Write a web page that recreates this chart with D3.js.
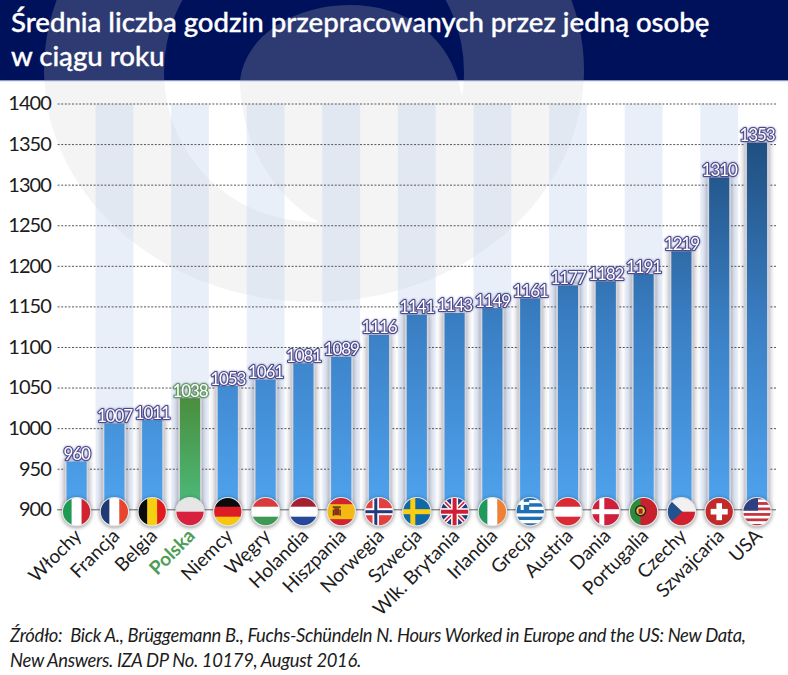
<!DOCTYPE html>
<html>
<head>
<meta charset="utf-8">
<script src="https://cdn.jsdelivr.net/npm/d3@7"></script>
<style>
  body { margin: 0; background: white; }
  text { font-family: Lato, "Open Sans", sans-serif; }
</style>
</head>
<body>
<div id="container"></div>
<script>
let categories = ["Włochy","Francja","Belgia","Polska","Niemcy","Węgry","Holandia","Hiszpania","Norwegia","Szwecja","Wlk. Brytania","Irlandia","Grecja","Austria","Dania","Portugalia","Czechy","Szwajcaria","USA"];
let values = [960,1007,1011,1038,1053,1061,1081,1089,1116,1141,1143,1149,1161,1177,1182,1191,1219,1310,1353];
let yTicks = [900,950,1000,1050,1100,1150,1200,1250,1300,1350,1400];
let titleLines = ["Średnia liczba godzin przepracowanych przez jedną osobę","w ciągu roku"];
let sourceLines = ["Źródło:  Bick A., Brüggemann B., Fuchs-Schündeln N. Hours Worked in Europe and the US: New Data,","New Answers. IZA DP No. 10179, August 2016."];

let w = 788;
let h = 675;
let headerH = 80;

let viz = d3.select("#container")
  .append("svg")
    .attr("width",w)
    .attr("height",h)
    .style("display","block")
;
let defs = viz.append("defs");

let xScale = d3.scaleBand().domain(categories).range([57.7,775.9]).paddingInner(0.42).paddingOuter(0.21);
let yScale = d3.scaleLinear().domain([900,1400]).range([509.3,103.5]);

// background logo, drawn once for the header and once for the chart area
defs.append("clipPath").attr("id","clipHeader").append("rect").attr("width",w).attr("height",headerH);
defs.append("clipPath").attr("id","clipBody").append("rect").attr("y",headerH).attr("width",w).attr("height",h-headerH);

function drawLogo(clip,bg,fg){
  let g = viz.append("g").attr("clip-path","url(#"+clip+")");
  g.append("rect").attr("width",w).attr("height",h).attr("fill",bg);
  g.append("ellipse").attr("cx",314).attr("cy",70).attr("rx",270).attr("ry",232).attr("fill",fg);
  g.append("circle").attr("cx",314).attr("cy",72).attr("r",150).attr("fill",bg);
  g.append("path")
    .attr("d","M240,81 C245,35 295,5 350,5 C405,5 445,35 458,80 L463,100 L472,100 L472,223 L320,223 C265,190 241,135 240,81 Z")
    .attr("fill",fg);
}
drawLogo("clipHeader","#00115c","#2e3a72");
drawLogo("clipBody","#ffffff","#f4f4f4");

viz.append("rect").attr("y",headerH).attr("width",w).attr("height",1.2).attr("fill","#8d97c0");

viz.append("g").selectAll("text").data(titleLines).enter().append("text")
    .text(d=>d)
    .attr("x",11)
    .attr("y",(d,i)=>32+i*34)
    .attr("fill","white")
    .attr("stroke","white")
    .attr("stroke-width",0.35)
    .style("font-size","27.6px")
    .style("font-weight",500)
;

// pale stripes behind every second bar
viz.append("g").selectAll("rect").data(categories.filter((d,i)=>i%2==1)).enter().append("rect")
    .attr("x",d=>xScale(d)-xScale.step()*0.21)
    .attr("y",yScale(1400))
    .attr("width",xScale.step())
    .attr("height",yScale(900)-yScale(1400))
    .attr("fill","#c3d4ee")
    .attr("opacity",0.38)
;

// y axis with dashed grid
let yAxis = d3.axisLeft(yScale).tickValues(yTicks).tickSize(719).tickPadding(6).tickFormat(d3.format("d"));
let yGroup = viz.append("g").attr("transform","translate(776,0)").call(yAxis);
yGroup.select(".domain").remove();
yGroup.selectAll("line")
    .attr("stroke",d=>d==900?"#666":"#555")
    .attr("stroke-width",1)
    .attr("stroke-dasharray",d=>d==900?null:"2,1.6")
;
yGroup.selectAll("text")
    .attr("fill","#1c1c1c")
    .style("font-family","Lato")
    .style("font-size","20px")
    .style("letter-spacing","-0.9px")
;

// bars
let blueGrad = defs.append("linearGradient").attr("id","blueGrad")
    .attr("gradientUnits","userSpaceOnUse")
    .attr("x1",0).attr("x2",0)
    .attr("y1",yScale(900)).attr("y2",yScale(1353));
blueGrad.append("stop").attr("offset","0").attr("stop-color","#4fa3ee");
blueGrad.append("stop").attr("offset","0.5").attr("stop-color","#3a7fc4");
blueGrad.append("stop").attr("offset","1").attr("stop-color","#1f4f80");

let greenGrad = defs.append("linearGradient").attr("id","greenGrad")
    .attr("x1",0).attr("x2",0).attr("y1",1).attr("y2",0);
greenGrad.append("stop").attr("offset","0").attr("stop-color","#4cbb7c");
greenGrad.append("stop").attr("offset","1").attr("stop-color","#4a8e3d");

viz.append("g").selectAll("rect").data(categories).enter().append("rect")
    .attr("x",d=>xScale(d))
    .attr("y",(d,i)=>yScale(values[i]))
    .attr("width",xScale.bandwidth())
    .attr("height",(d,i)=>yScale(900)-yScale(values[i]))
    .attr("fill",d=>d=="Polska"?"url(#greenGrad)":"url(#blueGrad)")
    .attr("stroke","#d3d5da")
    .attr("stroke-width",1.8)
    .style("filter","drop-shadow(0 0 3px rgba(60,60,90,.6))")
;

// value labels
viz.append("g").selectAll("text").data(categories).enter().append("text")
    .text((d,i)=>values[i])
    .attr("x",d=>xScale(d)+xScale.bandwidth()/2)
    .attr("y",(d,i)=>yScale(values[i])-0.6)
    .attr("text-anchor","middle")
    .attr("fill","white")
    .attr("stroke",d=>d=="Polska"?"#5c9a55":"#4a478f")
    .attr("stroke-width",2.2)
    .attr("stroke-linejoin","round")
    .style("paint-order","stroke")
    .style("font-size","17px")
    .style("letter-spacing","-1.1px")
    .style("filter","drop-shadow(0 0 1px rgba(60,60,120,.6))")
;

// flags
function bands(g,dir,colors){
  let n = colors.length;
  colors.forEach(function(c,i){
    if(dir=="h"){
      g.append("rect").attr("x",-15).attr("y",-15+30*i/n).attr("width",30).attr("height",30/n+0.3).attr("fill",c);
    }else{
      g.append("rect").attr("x",-15+30*i/n).attr("y",-15).attr("width",30/n+0.3).attr("height",30).attr("fill",c);
    }
  });
}
function box(g,x,y,bw,bh,c){
  g.append("rect").attr("x",x).attr("y",y).attr("width",bw).attr("height",bh).attr("fill",c);
}
function nordic(g,bg,outer,inner){
  box(g,-15,-15,30,30,bg);
  box(g,-6.5,-15,outer==inner?5:6.5,30,outer);
  box(g,-15,outer==inner?-2.5:-3.5,30,outer==inner?5:7,outer);
  if(outer!=inner){
    box(g,-4.7,-15,3,30,inner);
    box(g,-15,-1.5,30,3,inner);
  }
}
let flagPainters = {
  "Włochy": g=>bands(g,"v",["#1f9a54","#fff","#cf2430"]),
  "Francja": g=>bands(g,"v",["#1f3a75","#fff","#e8452f"]),
  "Belgia": g=>bands(g,"v",["#0b0b0b","#f6cf11","#e3191f"]),
  "Polska": g=>bands(g,"h",["#e6e6e6","#d7213f"]),
  "Niemcy": g=>bands(g,"h",["#0c0c0c","#dd1d25","#f8c70d"]),
  "Węgry": g=>bands(g,"h",["#d93a3a","#fff","#3c9a55"]),
  "Holandia": g=>bands(g,"h",["#a51f33","#fff","#27479a"]),
  "Hiszpania": function(g){
    bands(g,"h",["#d2232f","#f5b914","#f5b914","#d2232f"]);
    box(g,-7,-3.5,5,7,"#8f2b1f");
    box(g,-8.5,-5.5,8,2,"#6e4a12");
    box(g,-8.5,-2,1.5,6,"#5a3a10");
    box(g,-1.8,-2,1.5,6,"#5a3a10");
  },
  "Norwegia": g=>nordic(g,"#e04040","#fff","#21397f"),
  "Szwecja": g=>nordic(g,"#0f68a8","#fbcf10","#fbcf10"),
  "Wlk. Brytania": function(g){
    box(g,-15,-15,30,30,"#22397f");
    [[4.5,"#fff"],[1.6,"#cf1f36"]].forEach(function(s){
      g.append("path").attr("d","M-15,-15 L15,15 M-15,15 L15,-15").attr("stroke",s[1]).attr("stroke-width",s[0]);
    });
    box(g,-3.5,-15,7,30,"#fff"); box(g,-15,-3.5,30,7,"#fff");
    box(g,-2,-15,4,30,"#cf1f36"); box(g,-15,-2,30,4,"#cf1f36");
  },
  "Irlandia": g=>bands(g,"v",["#1f9a5a","#fff","#f08034"]),
  "Grecja": function(g){
    bands(g,"h",["#1f6fb5","#fff","#1f6fb5","#fff","#1f6fb5","#fff","#1f6fb5","#fff","#1f6fb5"]);
    box(g,-15,-15,14,13.3,"#1f6fb5");
    box(g,-9.5,-15,3,13.3,"#fff");
    box(g,-15,-9.8,14,3,"#fff");
  },
  "Austria": g=>bands(g,"h",["#dc2a35","#fff","#dc2a35"]),
  "Dania": g=>nordic(g,"#cf1f3c","#fff","#fff"),
  "Portugalia": function(g){
    box(g,-15,-15,30,30,"#c8202c");
    box(g,-15,-15,12,30,"#2f8a3d");
    g.append("circle").attr("cx",-3).attr("cy",-1).attr("r",5).attr("fill","#e8c33a").attr("stroke","#222").attr("stroke-width",1.4);
    box(g,-5,-3,4,5,"#a3202a");
  },
  "Czechy": function(g){
    bands(g,"h",["#f1f1f1","#d3202e"]);
    g.append("path").attr("d","M-15,-15 L1,0 L-15,15 Z").attr("fill","#23528f");
  },
  "Szwajcaria": function(g){
    box(g,-15,-15,30,30,"#c22a2a");
    box(g,-2.8,-8.5,5.6,17,"#fff");
    box(g,-8.5,-2.8,17,5.6,"#fff");
  },
  "USA": function(g){
    bands(g,"h",["#c8323f","#fff","#c8323f","#fff","#c8323f","#fff","#c8323f","#fff","#c8323f","#fff","#c8323f"]);
    box(g,-15,-15,16,14,"#2f3f7f");
  }
};

let flagY = 511.7;
let flagGroups = viz.append("g").selectAll("g").data(categories).enter().append("g")
    .attr("transform",d=>"translate("+(xScale(d)+xScale.bandwidth()/2)+","+flagY+")")
    .style("filter","drop-shadow(0 1.5px 2px rgba(0,0,0,.45))")
;
defs.append("clipPath").attr("id","flagClip").append("circle").attr("r",14);
flagGroups.each(function(d){
  let g = d3.select(this).append("g").attr("clip-path","url(#flagClip)");
  flagPainters[d](g);
});
flagGroups.append("circle").attr("r",14.2).attr("fill","none").attr("stroke","#e4e6ea").attr("stroke-width",1.1);

// category labels
let xAxis = d3.axisBottom(xScale).tickSize(0);
let xGroup = viz.append("g").attr("transform","translate(5,533)").call(xAxis);
xGroup.select(".domain").remove();
xGroup.selectAll("text")
    .attr("transform","rotate(-45) translate(-2,-3)")
    .attr("x",0)
    .attr("y",0)
    .attr("dy","0.35em")
    .attr("text-anchor","end")
    .attr("fill",d=>d=="Polska"?"#4f9d56":"#1c1c1c")
    .style("font-family","Lato")
    .style("font-weight",d=>d=="Polska"?700:400)
    .style("font-size","19px")
;

// source
viz.append("g").selectAll("text").data(sourceLines).enter().append("text")
    .text(d=>d)
    .attr("x",10)
    .attr("y",(d,i)=>642+i*24.5)
    .attr("fill","#1c1c1c")
    .style("font-size","18.4px")
    .style("letter-spacing","-0.33px")
    .style("font-style","italic")
    .style("white-space","pre")
;
</script>
</body>
</html>
